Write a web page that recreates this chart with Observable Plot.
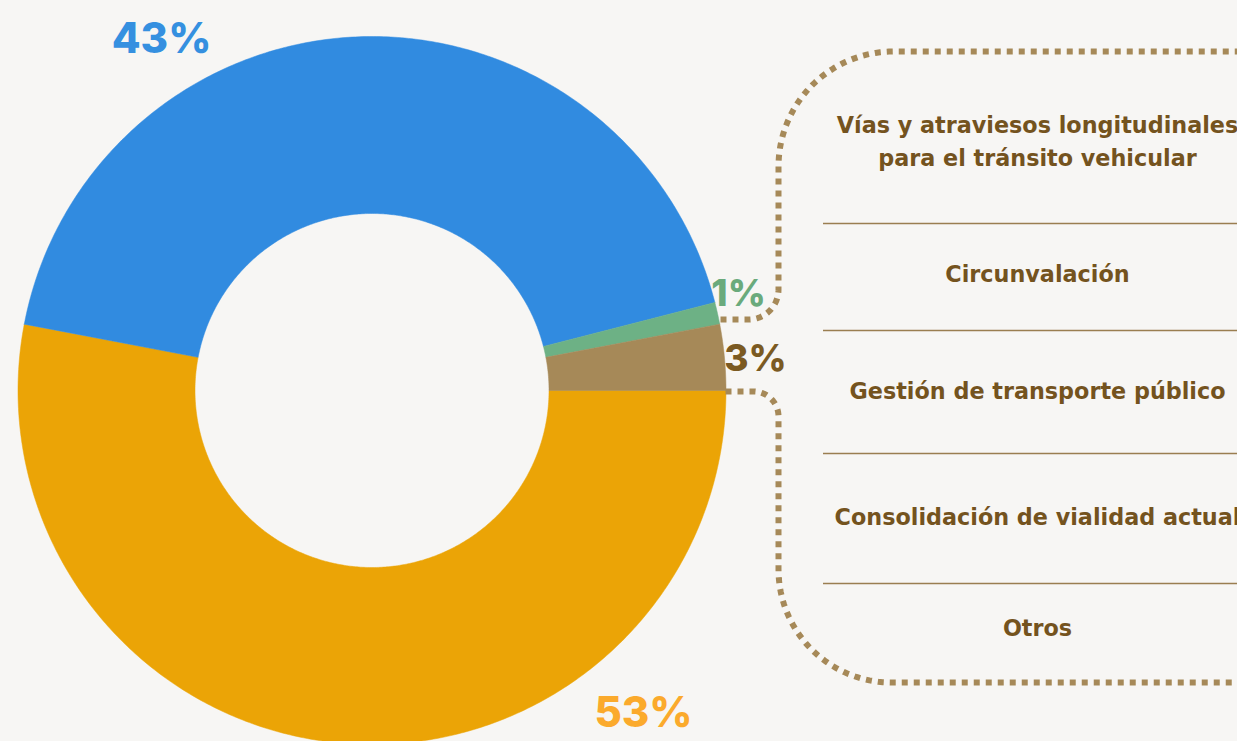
<!DOCTYPE html>
<html>
<head>
<meta charset="utf-8">
<script src="https://cdn.jsdelivr.net/npm/d3@7"></script>
<script src="https://cdn.jsdelivr.net/npm/@observablehq/plot@0.6"></script>
<style>
  html, body { margin: 0; padding: 0; background: #f7f6f4; }
  #chart { width: 1237px; height: 741px; overflow: hidden; }
</style>
</head>
<body>
<div id="chart"></div>
<script>
// ---- data ----
const sliceNames = ["Orange", "Blue", "Green", "Brown"];
const sliceValues = [53, 43, 1, 3];
const sliceColors = ["#eba406", "#318be0", "#6db185", "#a68958"];
const labelTexts = ["53%", "43%", "1%", "3%"];
const labelColors = ["#fbaa2c", "#3590e0", "#6aaa7c", "#7b5a22"];
const legendItems = [
  "Vías y atraviesos longitudinales\npara el tránsito vehicular",
  "Circunvalación",
  "Gestión de transporte público",
  "Consolidación de vialidad actual",
  "Otros"
];

// ---- layout ----
const W = 1237, H = 741;
const cx = 371.5, cy = 390, rOuter = 354, rInner = 177;
const labelPos = [[643, 726], [161, 52], [738, 305], [755, 370]];
const labelSizes = [42, 42, 37, 37];
const legendX = 1037;
const legendY = [138, 271, 388, 514, 625];
const sepY = [223, 330, 453, 583];
const textColor = "#74531e";
const boxColor = "#a68958";

// ---- slices from d3.pie ----
const arcs = d3.pie().sort(null).startAngle(Math.PI / 2).endAngle(Math.PI / 2 + 2 * Math.PI)(sliceValues);
function slicePoints(a, i) {
  const pts = [];
  const n = Math.max(8, Math.ceil((a.endAngle - a.startAngle) / 0.01));
  for (let k = 0; k <= n; k++) {
    const t = a.startAngle + (a.endAngle - a.startAngle) * k / n;
    pts.push({x: cx + rOuter * Math.sin(t), y: cy - rOuter * Math.cos(t), s: i});
  }
  for (let k = n; k >= 0; k--) {
    const t = a.startAngle + (a.endAngle - a.startAngle) * k / n;
    pts.push({x: cx + rInner * Math.sin(t), y: cy - rInner * Math.cos(t), s: i});
  }
  pts.push(pts[0]);
  return pts;
}

// ---- rounded dotted connector box ----
function rounded(points, radii) {
  const out = [points[0]];
  for (let i = 1; i < points.length - 1; i++) {
    const p0 = points[i - 1], p = points[i], p1 = points[i + 1], r = radii[i - 1];
    const d0 = [p0[0] - p[0], p0[1] - p[1]], d1 = [p1[0] - p[0], p1[1] - p[1]];
    const l0 = Math.hypot(...d0), l1 = Math.hypot(...d1);
    const u0 = [d0[0] / l0, d0[1] / l0], u1 = [d1[0] / l1, d1[1] / l1];
    const a = [p[0] + u0[0] * r, p[1] + u0[1] * r];
    const b = [p[0] + u1[0] * r, p[1] + u1[1] * r];
    const c = [p[0] + u0[0] * r + u1[0] * r, p[1] + u0[1] * r + u1[1] * r];
    const t0 = Math.atan2(a[1] - c[1], a[0] - c[0]);
    let t1 = Math.atan2(b[1] - c[1], b[0] - c[0]);
    let dt = t1 - t0;
    while (dt > Math.PI) dt -= 2 * Math.PI;
    while (dt < -Math.PI) dt += 2 * Math.PI;
    const n = 40;
    for (let k = 0; k <= n; k++) {
      const t = t0 + dt * k / n;
      out.push([c[0] + r * Math.cos(t), c[1] + r * Math.sin(t)]);
    }
  }
  out.push(points[points.length - 1]);
  return out;
}
const upperPath = rounded([[720, 319], [778, 319], [778, 51], [1260, 51]], [30, 115])
  .map(([x, y]) => ({x, y}));
const lowerPath = rounded([[725, 391], [778, 391], [778, 682], [1260, 682]], [25, 113])
  .map(([x, y]) => ({x, y}));

const labelFont = "Inter, 'Noto Sans', sans-serif";
const legendFont = "'DejaVu Sans', 'Noto Sans', sans-serif";

const marks = [
  ...arcs.map((a, i) => Plot.line(slicePoints(a, i), {
    x: "x", y: "y", fill: sliceColors[i], stroke: sliceColors[i], strokeWidth: 0.5, curve: "linear"
  })),
  Plot.line(upperPath, {x: "x", y: "y", stroke: boxColor, strokeWidth: 6, strokeDasharray: "6,6", strokeLinecap: "butt", curve: "linear"}),
  Plot.line(lowerPath, {x: "x", y: "y", stroke: boxColor, strokeWidth: 6, strokeDasharray: "6,6", strokeLinecap: "butt", curve: "linear"}),
  ...labelTexts.map((t, i) => Plot.text([t], {
    x: () => labelPos[i][0], y: () => labelPos[i][1], text: d => d,
    fill: labelColors[i], fontSize: labelSizes[i], fontWeight: 800,
    lineAnchor: "bottom", textAnchor: "middle", fontFamily: labelFont
  })),
  Plot.ruleY(sepY, {y: d => d, x1: 823, x2: 1237, stroke: "#9a7e50", strokeWidth: 1.5}),
  Plot.text(legendItems, {
    x: () => legendX, y: (d, i) => legendY[i], text: d => d,
    fill: textColor, fontSize: 22.3, fontWeight: 700, lineHeight: 1.48,
    textAnchor: "middle", lineAnchor: "middle", fontFamily: legendFont
  })
];

const chart = Plot.plot({
  width: W, height: H, margin: 0,
  x: {domain: [0, W], range: [0, W], axis: null},
  y: {domain: [0, H], range: [0, H], axis: null},
  style: {background: "transparent", overflow: "hidden"},
  marks
});
document.getElementById("chart").append(chart);
</script>
</body>
</html>
